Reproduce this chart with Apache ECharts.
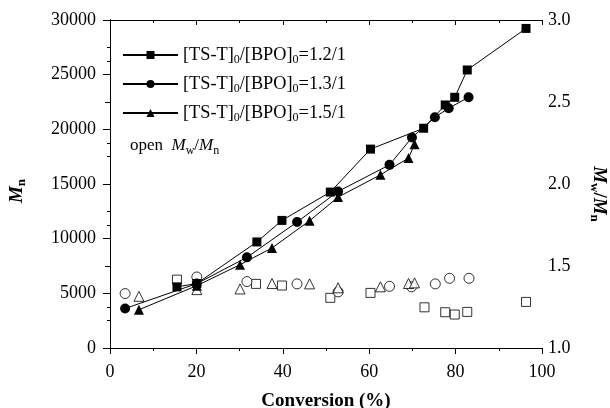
<!DOCTYPE html>
<html>
<head>
<meta charset="utf-8">
<script src="https://cdn.jsdelivr.net/npm/echarts@6/dist/echarts.min.js"></script>
<style>
  html, body { margin: 0; padding: 0; background: #fff; }
  #chart { width: 610px; height: 408px; }
</style>
</head>
<body>
<div id="chart"></div>
<script>
// Conversion (%) and number-average molar mass for three initiator ratios
const conv12 = [15.5, 20.1, 34.0, 39.8, 51.0, 60.3, 72.6, 77.6, 79.8, 82.7, 96.3];
const mn12   = [5590, 5900, 9700, 11670, 14260, 18190, 20100, 22230, 22930, 25430, 29230];

const conv13 = [3.5, 20.1, 31.7, 43.3, 52.8, 64.7, 69.9, 75.2, 78.4, 83.0];
const mn13   = [3610, 5890, 8290, 11520, 14320, 16750, 19250, 21110, 21930, 22930];

const conv15 = [6.7, 20.1, 30.1, 37.5, 46.2, 52.8, 62.6, 69.1, 70.5];
const mn15   = [3500, 5700, 7620, 9150, 11640, 13800, 15840, 17370, 18640];

// Dispersity Mw/Mn (open symbols, right axis)
const pdiConv12 = [15.5, 33.8, 39.8, 51.0, 60.3, 72.8, 77.6, 79.8, 82.7, 96.3];
const pdi12     = [1.417, 1.391, 1.381, 1.306, 1.336, 1.248, 1.218, 1.204, 1.220, 1.281];

const pdiConv13 = [3.5, 20.1, 31.7, 43.3, 52.8, 64.7, 69.8, 75.3, 78.6, 83.1];
const pdi13     = [1.332, 1.433, 1.405, 1.391, 1.342, 1.376, 1.373, 1.391, 1.425, 1.425];

const pdiConv15 = [6.7, 20.1, 30.1, 37.5, 46.2, 52.8, 62.6, 69.1, 70.5];
const pdi15     = [1.315, 1.356, 1.360, 1.393, 1.391, 1.367, 1.373, 1.393, 1.397];

const seriesNames = ['1.2/1', '1.3/1', '1.5/1'];

const FONT = 'Liberation Serif';
const pair = (xs, ys) => xs.map((x, i) => [x, ys[i]]);

const chart = echarts.init(document.getElementById('chart'), null, { renderer: 'canvas' });

const axisLine = { show: true, lineStyle: { color: '#000', width: 1 } };
const labelStyle = { color: '#000', fontFamily: FONT, fontSize: 18 };

const subRich = {
  i: { fontFamily: FONT, fontSize: 19, fontStyle: 'italic', fontWeight: 'bold', color: '#000', lineHeight: 22 },
  s: { fontFamily: FONT, fontSize: 13, fontWeight: 'bold', color: '#000', verticalAlign: 'bottom', lineHeight: 10 },
  t: { fontFamily: FONT, fontSize: 19, fontWeight: 'bold', color: '#000', lineHeight: 22 }
};

function lineSeries(name, data, symbol, size) {
  return {
    name: name, type: 'line', xAxisIndex: 0, yAxisIndex: 0,
    data: data, symbol: symbol, symbolSize: size,
    lineStyle: { color: '#000', width: 1 },
    itemStyle: { color: '#000' },
    z: 5
  };
}
function openSeries(data, symbol, size) {
  return {
    type: 'scatter', xAxisIndex: 0, yAxisIndex: 1,
    data: data, symbol: symbol, symbolSize: size,
    itemStyle: { color: '#fff', borderColor: '#000', borderWidth: 1 },
    z: 3
  };
}

const option = {
  backgroundColor: '#fff',
  animation: false,
  grid: { left: 110, right: 68, top: 20, bottom: 60, containLabel: false, outerBoundsMode: 'none' },
  legend: {
    orient: 'vertical', left: 122, top: 44,
    itemWidth: 55, itemHeight: 10, itemGap: 7, padding: 0,
    data: seriesNames,
    formatter: (n) => '[TS-T]{s|0}/[BPO]{s|0}=' + n,
    textStyle: {
      fontFamily: FONT, fontSize: 18.3, color: '#000', lineHeight: 22,
      rich: { s: { fontFamily: FONT, fontSize: 12, verticalAlign: 'bottom', lineHeight: 10, color: '#000' } }
    }
  },
  graphic: [{
    type: 'text', left: 130, top: 135,
    style: {
      text: 'open  {i|M}{s|w}/{i|M}{s|n}',
      fontFamily: FONT, fontSize: 17, fill: '#000', lineHeight: 22,
      rich: {
        i: { fontFamily: FONT, fontSize: 17, fontStyle: 'italic', lineHeight: 22 },
        s: { fontFamily: FONT, fontSize: 12, verticalAlign: 'bottom', lineHeight: 10 }
      }
    }
  }],
  xAxis: [{
    type: 'value', position: 'bottom', min: 0, max: 100, interval: 20,
    axisLine: axisLine,
    axisTick: { show: true, inside: false, length: 6, lineStyle: { color: '#000' } },
    minorTick: { show: true, splitNumber: 2, length: 3, lineStyle: { color: '#000' } },
    splitLine: { show: false },
    axisLabel: Object.assign({ margin: 15 }, labelStyle),
    name: 'Conversion (%)', nameLocation: 'middle', nameGap: 44,
    nameTextStyle: { fontFamily: FONT, fontSize: 19, fontWeight: 'bold', color: '#000' }
  }, {
    type: 'value', position: 'top', min: 0, max: 100, interval: 20,
    axisLine: axisLine,
    axisTick: { show: true, inside: true, length: 5, lineStyle: { color: '#000' } },
    minorTick: { show: true, splitNumber: 2, length: 3, lineStyle: { color: '#000' } },
    splitLine: { show: false },
    axisLabel: { show: false }
  }],
  yAxis: [{
    type: 'value', position: 'left', min: 0, max: 30000, interval: 5000,
    axisLine: axisLine,
    axisTick: { show: true, inside: false, length: 7, lineStyle: { color: '#000' } },
    minorTick: { show: true, splitNumber: 2, length: 3, lineStyle: { color: '#000' } },
    splitLine: { show: false },
    axisLabel: Object.assign({ margin: 14, formatter: (v) => String(v) }, labelStyle),
    name: '{i|M}{s|n}', nameLocation: 'middle', nameGap: 82, nameRotate: 90,
    nameTextStyle: { rich: subRich, padding: [0, 14, 0, 0] }
  }, {
    type: 'value', position: 'right', min: 1, max: 3, interval: 0.5,
    axisLine: axisLine,
    axisTick: { show: true, inside: true, length: 5, lineStyle: { color: '#000' } },
    minorTick: { show: true, splitNumber: 2, length: 3, lineStyle: { color: '#000' } },
    splitLine: { show: false },
    axisLabel: Object.assign({ margin: 6, formatter: (v) => v.toFixed(1) }, labelStyle),
    name: '{i|M}{s|w}{t|/}{i|M}{s|n}', nameLocation: 'middle', nameGap: 46, nameRotate: -90,
    nameTextStyle: { rich: subRich, padding: [0, 0, 0, 20] }
  }],
  series: [
    openSeries(pair(pdiConv12, pdi12), 'rect', 9),
    openSeries(pair(pdiConv13, pdi13), 'circle', 10),
    openSeries(pair(pdiConv15, pdi15), 'triangle', 10),
    lineSeries(seriesNames[0], pair(conv12, mn12), 'rect', 9),
    lineSeries(seriesNames[1], pair(conv13, mn13), 'circle', 10),
    lineSeries(seriesNames[2], pair(conv15, mn15), 'triangle', 10)
  ]
};

chart.setOption(option);
</script>
</body>
</html>
